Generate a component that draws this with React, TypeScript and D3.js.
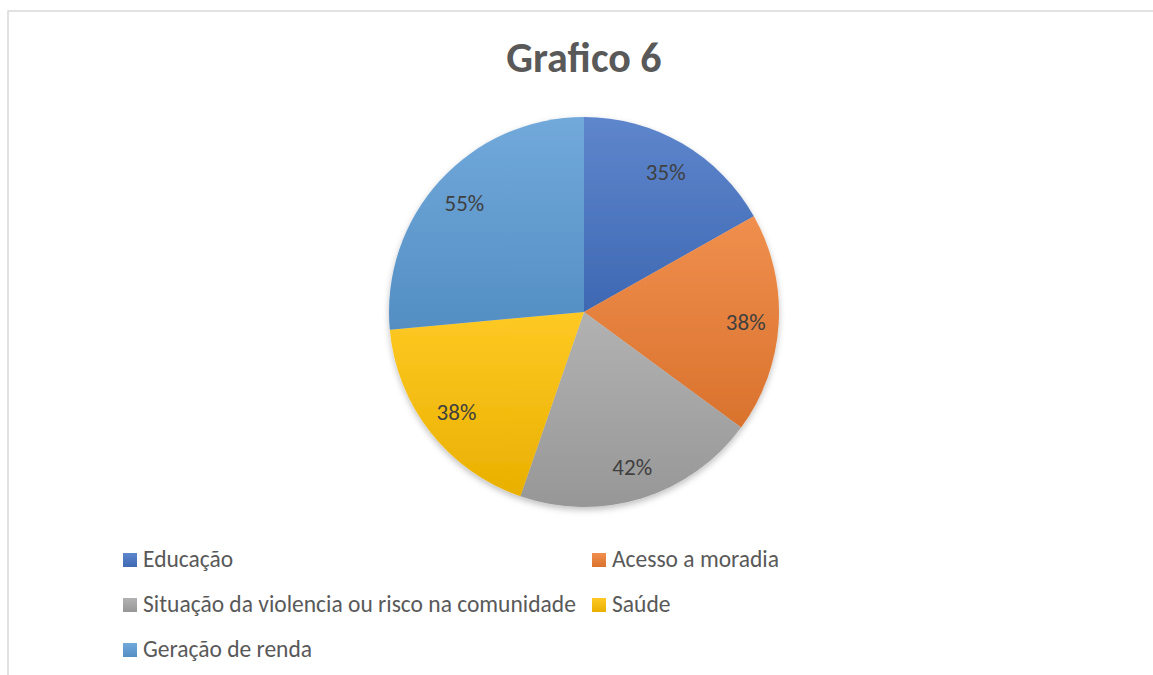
import React from "react";
import * as d3 from "d3";

const categories = [
  "Educação",
  "Acesso a moradia",
  "Situação da violencia ou risco na comunidade",
  "Saúde",
  "Geração de renda",
];
const values = [35, 38, 42, 38, 55];
const labels = ["35%", "38%", "42%", "38%", "55%"];
const colors = ["#4472C4", "#ED7D31", "#A5A5A5", "#FFC000", "#5B9BD5"];
const title = "Grafico 6";

const W = 1153;
const H = 675;
const cx = 584;
const cy = 312;
const R = 195;
const FONT = "Carlito, Lato, 'Open Sans', sans-serif";

export default function App() {
  const pie = d3.pie<number>().sort(null).value((d) => d)(values);
  const arc = d3.arc<d3.PieArcDatum<number>>().innerRadius(0).outerRadius(R);
  const labelArc = d3.arc<d3.PieArcDatum<number>>().innerRadius(162).outerRadius(162);

  const legendPos = [
    { x: 123, y: 567 },
    { x: 592, y: 567 },
    { x: 123, y: 612 },
    { x: 592, y: 612 },
    { x: 123, y: 657 },
  ];

  return (
    <svg
      width={W}
      height={H}
      style={{ position: "absolute", left: 0, top: 0, background: "#fff" }}
    >
      <defs>
        {colors.map((c, i) => {
          const top = d3.interpolateRgb(c, "#ffffff")(0.14);
          const bot = d3.color(c)!.darker(0.25).toString();
          return (
            <linearGradient key={i} id={`g${i}`} x1="0" y1="0" x2="0" y2="1">
              <stop offset="0" stopColor={top} />
              <stop offset="1" stopColor={bot} />
            </linearGradient>
          );
        })}
        <filter id="shadow" x="-10%" y="-10%" width="120%" height="125%">
          <feDropShadow dx="0" dy="3" stdDeviation="3" floodColor="#000" floodOpacity="0.25" />
        </filter>
      </defs>
      <rect x={8} y={11} width={W + 10} height={H + 10} fill="#fff" stroke="#d9d9d9" strokeWidth={1.5} />
      <text
        x={cx}
        y={72}
        textAnchor="middle"
        fontFamily={FONT}
        fontWeight="bold"
        fontSize={42}
        fill="#595959"
      >
        {title}
      </text>
      <g transform={`translate(${cx},${cy})`} filter="url(#shadow)">
        {pie.map((d, i) => (
          <path key={i} d={arc(d)!} fill={`url(#g${i})`} />
        ))}
      </g>
      <g transform={`translate(${cx},${cy})`}>
        {pie.map((d, i) => {
          const [x, y] = labelArc.centroid(d);
          return (
            <text
              key={i}
              x={x}
              y={y}
              dy="0.35em"
              textAnchor="middle"
              fontFamily={FONT}
              fontSize={23}
              fill="#404040"
            >
              {labels[i]}
            </text>
          );
        })}
      </g>
      <g>
        {categories.map((c, i) => (
          <g key={i}>
            <rect
              x={legendPos[i].x}
              y={legendPos[i].y - 14}
              width={14}
              height={14}
              fill={`url(#g${i})`}
            />
            <text
              x={legendPos[i].x + 20}
              y={legendPos[i].y}
              fontFamily={FONT}
              fontSize={23.5}
              fill="#595959"
            >
              {c}
            </text>
          </g>
        ))}
      </g>
    </svg>
  );
}
